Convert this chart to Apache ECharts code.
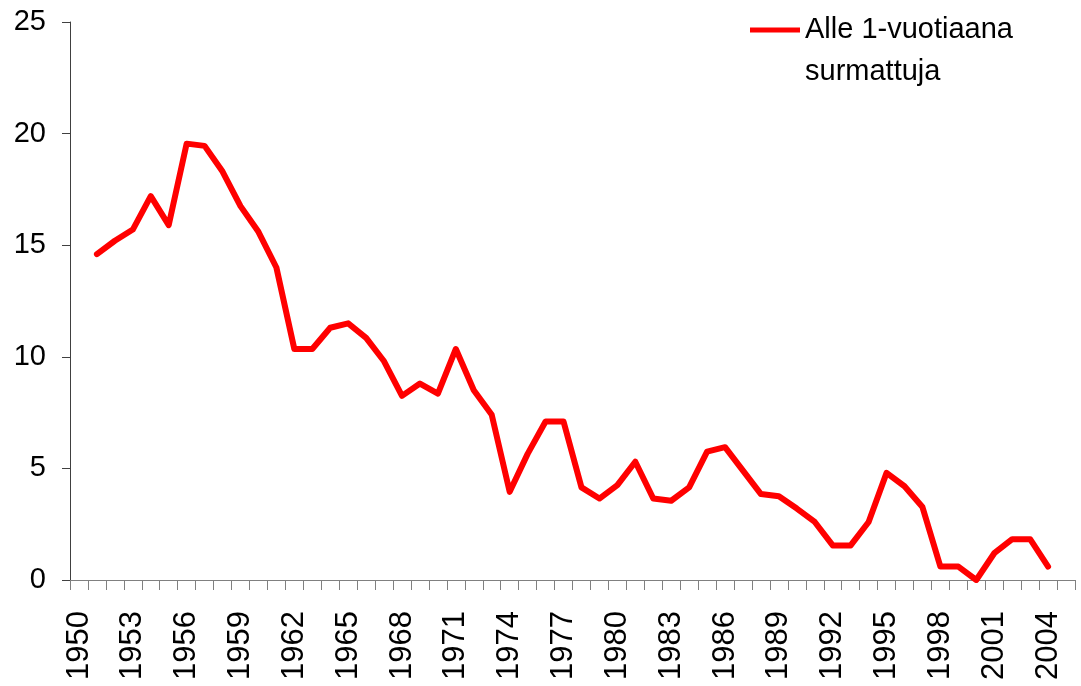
<!DOCTYPE html>
<html>
<head>
<meta charset="utf-8">
<script src="https://cdn.jsdelivr.net/npm/echarts@6/dist/echarts.min.js"></script>
<style>
  html, body { margin: 0; padding: 0; background: #fff; }
  #chart { width: 1081px; height: 686px; }
</style>
</head>
<body>
<div id="chart"></div>
<script>
// vuodet 1950-2005 (1950 ja 2005 ilman arvoa)
const years = []
for (let y = 1950; y <= 2005; y++) years.push(String(y))

const seriesName = 'Alle 1-vuotiaana surmattuja'

const values = [
  null,
  14.6, 15.2, 15.7, 17.2, 15.9, 19.55, 19.45, 18.3, 16.75, 15.6,
  14.0, 10.35, 10.35, 11.3, 11.5, 10.85, 9.8, 8.25, 8.8, 8.35,
  10.35, 8.5, 7.4, 3.95, 5.65, 7.1, 7.1, 4.15, 3.65, 4.25,
  5.3, 3.65, 3.55, 4.15, 5.75, 5.95, 4.9, 3.85, 3.75, 3.2,
  2.6, 1.55, 1.55, 2.6, 4.8, 4.2, 3.27, 0.6, 0.6, 0.0,
  1.2, 1.83, 1.83, 0.6,
  null
]

const yTicks = { min: 0, max: 25, interval: 5 }

const myChart = echarts.init(document.getElementById('chart'))
const option = {
  animation: false,
  textStyle: { fontFamily: 'Liberation Sans, Arial, sans-serif' },
  grid: {
    left: 70,
    right: 6,
    top: 22,
    bottom: 106,
    containLabel: false
  },
  legend: {
    left: 745,
    top: -38,
    itemWidth: 50,
    itemHeight: 5,
    icon: 'rect',
    // tyhjä ensimmäinen rivi, jotta viiva osuu ensimmäisen tekstirivin kohdalle
    formatter: function () {
      return '\nAlle 1-vuotiaana\nsurmattuja'
    },
    textStyle: {
      fontSize: 29,
      color: '#000',
      lineHeight: 42
    },
    data: [seriesName]
  },
  xAxis: {
    type: 'category',
    data: years,
    boundaryGap: true,
    axisLine: { lineStyle: { color: '#808080', width: 1 } },
    axisTick: {
      show: true,
      interval: 0,
      length: 10,
      lineStyle: { color: '#808080' }
    },
    axisLabel: {
      interval: 2,
      rotate: 90,
      fontSize: 31,
      color: '#000',
      margin: 31
    },
    splitLine: { show: false }
  },
  yAxis: {
    type: 'value',
    min: yTicks.min,
    max: yTicks.max,
    interval: yTicks.interval,
    axisLine: { show: true, lineStyle: { color: '#404040', width: 1 } },
    axisTick: { show: true, length: 8, lineStyle: { color: '#404040' } },
    axisLabel: { fontSize: 29, color: '#000', margin: 24 },
    splitLine: { show: false }
  },
  series: [
    {
      name: seriesName,
      type: 'line',
      data: values,
      symbol: 'none',
      connectNulls: false,
      lineStyle: { color: '#ff0000', width: 6, cap: 'round', join: 'round' },
      itemStyle: { color: '#ff0000' }
    }
  ]
}
myChart.setOption(option)
</script>
</body>
</html>
